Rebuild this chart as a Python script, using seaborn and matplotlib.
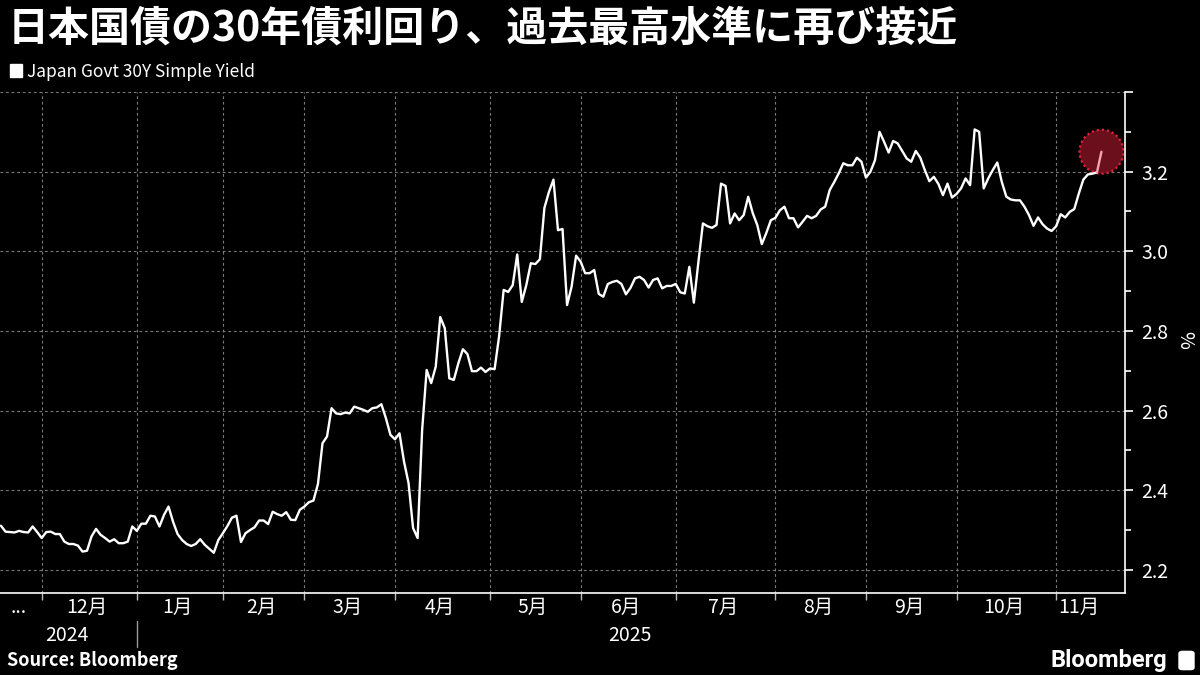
import numpy as np
import pandas as pd
import matplotlib
matplotlib.use("Agg")
import matplotlib.pyplot as plt
import matplotlib.transforms as mtransforms
from matplotlib.patches import Patch, FancyBboxPatch
import seaborn as sns

# ---------------- data (trading-day closes) ----------------
title = "日本国債の30年債利回り、過去最高水準に再び接近"
series_name = "Japan Govt 30Y Simple Yield"
source = "Source: Bloomberg"
logo = "Bloomberg"
unit = "%"

nov24 = [2.311, 2.296, 2.295, 2.294, 2.298, 2.295, 2.294, 2.309, 2.295]
dec24 = [2.280, 2.295, 2.296, 2.290, 2.290, 2.271, 2.265, 2.265, 2.261, 2.246,
         2.248, 2.284, 2.303, 2.288, 2.280, 2.271, 2.277, 2.267, 2.267, 2.271, 2.309]
jan25 = [2.298, 2.316, 2.316, 2.336, 2.334, 2.309, 2.338, 2.359, 2.321, 2.290,
         2.275, 2.265, 2.260, 2.265, 2.277, 2.263, 2.253, 2.243, 2.275]
feb25 = [2.292, 2.310, 2.331, 2.336, 2.270, 2.292, 2.300, 2.307, 2.324, 2.324,
         2.315, 2.346, 2.340, 2.336, 2.345, 2.326, 2.325, 2.351]
mar25 = [2.359, 2.370, 2.374, 2.416, 2.518, 2.535, 2.606, 2.593, 2.591, 2.595,
         2.593, 2.610, 2.606, 2.602, 2.597, 2.606, 2.608, 2.616, 2.581, 2.539]
apr25 = [2.528, 2.543, 2.472, 2.418, 2.305, 2.280, 2.551, 2.702, 2.669, 2.710,
         2.835, 2.807, 2.681, 2.677, 2.719, 2.754, 2.742, 2.699, 2.699, 2.708, 2.697]
may25 = [2.706, 2.704, 2.787, 2.903, 2.898, 2.915, 2.992, 2.873, 2.915, 2.970,
         2.968, 2.980, 3.109, 3.149, 3.180, 3.053, 3.056, 2.865, 2.911, 2.989]
jun25 = [2.974, 2.945, 2.945, 2.953, 2.893, 2.886, 2.918, 2.923, 2.926, 2.918,
         2.892, 2.908, 2.932, 2.936, 2.928, 2.909, 2.928, 2.932, 2.907, 2.913, 2.913]
jul25 = [2.918, 2.897, 2.894, 2.961, 2.871, 2.973, 3.070, 3.063, 3.059, 3.066,
         3.170, 3.164, 3.070, 3.095, 3.078, 3.091, 3.137, 3.096, 3.066, 3.018,
         3.046, 3.078]
aug25 = [3.084, 3.103, 3.112, 3.083, 3.083, 3.060, 3.074, 3.089, 3.083, 3.089,
         3.105, 3.112, 3.154, 3.174, 3.196, 3.221, 3.216, 3.216, 3.235, 3.225]
sep25 = [3.185, 3.200, 3.229, 3.300, 3.275, 3.248, 3.277, 3.271, 3.252, 3.233,
         3.225, 3.252, 3.235, 3.204, 3.176, 3.187, 3.169, 3.141, 3.170, 3.135]
oct25 = [3.144, 3.158, 3.183, 3.166, 3.306, 3.300, 3.158, 3.183, 3.204, 3.223,
         3.174, 3.137, 3.130, 3.128, 3.128, 3.112, 3.091, 3.064, 3.085, 3.068,
         3.057, 3.051]
nov25 = [3.063, 3.093, 3.085, 3.099, 3.106, 3.145, 3.180, 3.193, 3.195, 3.198, 3.250]

month_labels = ["...", "12月", "1月", "2月", "3月", "4月", "5月", "6月",
                "7月", "8月", "9月", "10月", "11月"]
year_labels = ["2024", "2025"]
yticks = [2.2, 2.4, 2.6, 2.8, 3.0, 3.2, 3.4]
yminor = [2.3, 2.5, 2.7, 2.9, 3.1, 3.3]

months = [nov24, dec24, jan25, feb25, mar25, apr25, may25, jun25,
          jul25, aug25, sep25, oct25, nov25]
values = np.concatenate(months)
idx = np.arange(len(values))
df = pd.DataFrame({"idx": idx, "yield": values})

lens = np.array([len(m) for m in months])
starts = np.concatenate([[0], np.cumsum(lens)[:-1]])
ends = starts + lens - 1
centers = (starts + ends) / 2.0

# ---------------- style ----------------
sns.set_theme(style="ticks", rc={
    "figure.facecolor": "black", "axes.facecolor": "black",
    "text.color": "white", "axes.labelcolor": "white",
    "xtick.color": "white", "ytick.color": "white",
    "axes.edgecolor": "white",
})
plt.rcParams["font.family"] = ["Noto Sans CJK JP", "DejaVu Sans"]

fig = plt.figure(figsize=(12, 6.75), dpi=100, facecolor="black")
ax = fig.add_axes([0.0, 0.1215, 0.9375, 0.7422])
ax.set_facecolor("black")

sns.lineplot(data=df.iloc[:-1], x="idx", y="yield", color="white",
             linewidth=1.7, ax=ax, zorder=3)
ax.scatter(idx[-1:], values[-1:], s=1000, facecolor="#6b0f1c",
           edgecolor="#e3203c", linewidth=1.6, linestyle=(0, (1, 1.3)), zorder=2)
sns.lineplot(data=df.iloc[-2:], x="idx", y="yield", color="#f4a3b4",
             linewidth=1.7, ax=ax, zorder=4)

x_right = 248.2
ax.set_xlim(-0.21, x_right)
ax.set_ylim(2.142, 3.40)

# y axis on right
ax.yaxis.tick_right()
ax.set_yticks(yticks)
ax.set_yticklabels([f"{v:.1f}" if v < 3.35 else "" for v in yticks])
ax.set_yticks(yminor, minor=True)
ax.tick_params(axis="y", which="major", length=6, width=1.2, colors="white",
               labelsize=14, pad=6, right=True, left=False)
ax.tick_params(axis="y", which="minor", length=4, width=1.2, colors="white",
               right=True, left=False)
ax.set_ylabel("")
fig.text(1185 / 1200, 0.497, unit, rotation=270, fontsize=14, color="white",
         ha="center", va="center")

# x axis
ax.set_xticks(starts[1:])
ax.set_xticklabels([""] * (len(starts) - 1))
ax.set_xticks(centers, minor=True)
ax.set_xticklabels(month_labels, minor=True)
ax.tick_params(axis="x", which="major", length=5, width=1, colors="#bbbbbb",
               bottom=True)
ax.tick_params(axis="x", which="minor", length=0, labelsize=14,
               labelcolor="white", pad=3)
ax.set_xlabel("")

ax.grid(True, which="major", axis="both", color="#7a7a7a",
        linestyle=(0, (2.5, 2.5)), linewidth=0.8)
ax.set_axisbelow(True)

for s in ["top", "left"]:
    ax.spines[s].set_visible(False)
ax.spines["right"].set_color("white")
ax.spines["bottom"].set_color("white")
ax.spines["right"].set_linewidth(1.2)
ax.spines["bottom"].set_linewidth(1.2)

# year row
trans = mtransforms.blended_transform_factory(ax.transData, ax.transAxes)
ax.text((starts[0] + starts[2] - 1) / 2.0, -0.084, year_labels[0], transform=trans,
        ha="center", va="center", fontsize=14, color="white")
ax.text((starts[2] - 0.5 + x_right) / 2.0, -0.084, year_labels[1], transform=trans,
        ha="center", va="center", fontsize=14, color="white")
ax.plot([starts[2], starts[2]], [-0.055, -0.108], transform=trans,
        color="#9a9a9a", linewidth=1, clip_on=False)

# title & legend
fig.text(0.006, 0.957, title, fontsize=29.5, fontweight="bold", color="white",
         ha="left", va="center")
ax.legend(handles=[Patch(facecolor="white", edgecolor="white")],
          labels=[series_name], loc="center left",
          bbox_to_anchor=(0.008, 0.894), bbox_transform=fig.transFigure,
          frameon=False, fontsize=12.5, handlelength=0.7, handleheight=0.7,
          handletextpad=0.3, labelcolor="white", borderpad=0, borderaxespad=0)

# footer
fig.text(0.006, 0.021, source, fontsize=13, fontweight="bold", color="white",
         ha="left", va="center")
fig.text(0.973, 0.022, logo, fontsize=17, fontweight="bold", color="white",
         ha="right", va="center", family=["Roboto", "DejaVu Sans"])
fig.patches.append(FancyBboxPatch((0.9835, 0.009), 0.0105, 0.025,
                                  boxstyle="round,pad=0.001,rounding_size=0.003",
                                  transform=fig.transFigure, facecolor="white",
                                  edgecolor="white", figure=fig))

fig.savefig("out.png", dpi=100, facecolor="black")
